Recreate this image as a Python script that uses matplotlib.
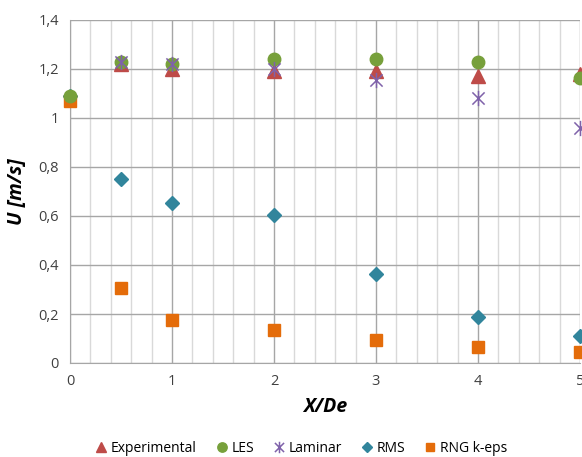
import matplotlib
matplotlib.use('Agg')
import matplotlib.pyplot as plt
from matplotlib.path import Path
from matplotlib.ticker import MultipleLocator, FuncFormatter

plt.rcParams['font.family'] = ['Open Sans', 'DejaVu Sans']

# data
x_exp = [0.5, 1, 2, 3, 4, 5]
u_exp = [1.22, 1.20, 1.19, 1.19, 1.17, 1.18]

x_les = [0, 0.5, 1, 2, 3, 4, 5]
u_les = [1.09, 1.23, 1.22, 1.24, 1.24, 1.23, 1.165]

x_lam = [0.5, 1, 2, 3, 4, 5]
u_lam = [1.23, 1.22, 1.20, 1.155, 1.08, 0.96]

x_rms = [0, 0.5, 1, 2, 3, 4, 5]
u_rms = [1.09, 0.75, 0.653, 0.603, 0.363, 0.188, 0.11]

x_rng = [0, 0.5, 1, 2, 3, 4, 5]
u_rng = [1.07, 0.306, 0.175, 0.135, 0.094, 0.065, 0.045]

# Excel-style star marker: an X with a vertical bar through it
star = Path([(-1, -1), (1, 1), (-1, 1), (1, -1), (0, -1.25), (0, 1.25)],
            [Path.MOVETO, Path.LINETO, Path.MOVETO, Path.LINETO, Path.MOVETO, Path.LINETO])

fig = plt.figure(figsize=(5.82, 4.57), dpi=100)
ax = fig.add_axes([70 / 582, 94 / 457, 510 / 582, 343 / 457])

ax.plot(x_exp, u_exp, '^', color='#BE4B48', ms=10, mec='#BE4B48', label='Experimental', clip_on=False, zorder=3)
ax.plot(x_les, u_les, 'o', color='#77A03B', ms=9, label='LES', clip_on=False, zorder=4)
ax.plot(x_lam, u_lam, marker=star, ls='none', color='#7F62AA', ms=11, mew=1.1, label='Laminar', clip_on=False, zorder=5)
ax.plot(x_rms, u_rms, 'D', color='#31859C', ms=7, label='RMS', clip_on=False, zorder=3)
ax.plot(x_rng, u_rng, 's', color='#E46C0A', ms=8.5, label='RNG k-eps', clip_on=False, zorder=3)

ax.set_xlim(0, 5)
ax.set_ylim(0, 1.4)
ax.xaxis.set_major_locator(MultipleLocator(1))
ax.xaxis.set_minor_locator(MultipleLocator(0.2))
ax.yaxis.set_major_locator(MultipleLocator(0.2))
ax.yaxis.set_major_formatter(FuncFormatter(lambda v, p: ('%g' % round(v, 1)).replace('.', ',')))

ax.grid(which='major', axis='both', color='#A6A6A6', lw=1)
ax.grid(which='minor', axis='x', color='#D9D9D9', lw=1)
ax.set_axisbelow(True)

for s in ['top', 'right']:
    ax.spines[s].set_visible(False)
for s in ['left', 'bottom']:
    ax.spines[s].set_color('#A6A6A6')
ax.tick_params(which='both', length=0, labelsize=10.5, colors='#404040', pad=8)

ax.set_xlabel('X/De', fontsize=14, fontweight='bold', style='italic', labelpad=6)
ax.set_ylabel('U [m/s]', fontsize=14, fontweight='bold', style='italic', labelpad=8)

fig.legend(loc='center', bbox_to_anchor=(300 / 582, 1 - 448 / 457), ncol=5, frameon=False,
           fontsize=10, handletextpad=0.1, columnspacing=1.2, handlelength=1.2, markerscale=0.75)

fig.savefig('out.png', dpi=100)
